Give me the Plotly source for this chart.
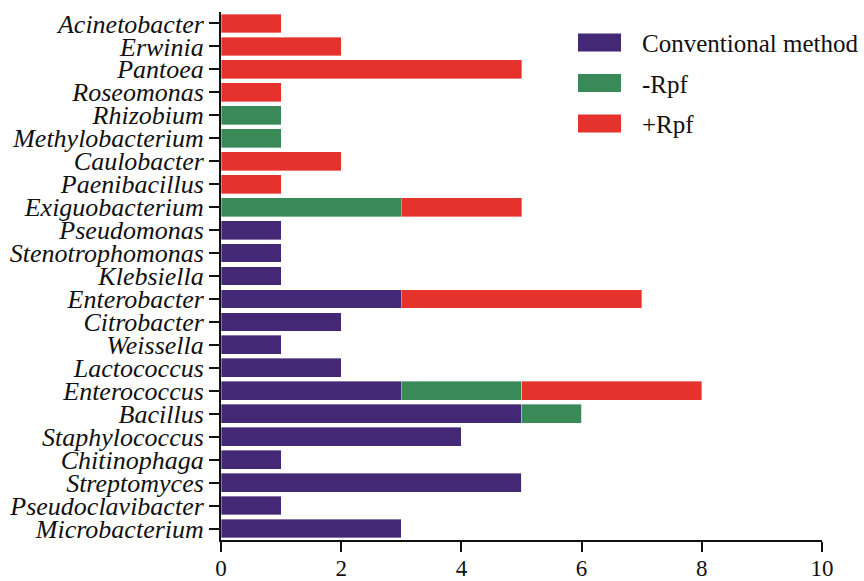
import plotly.graph_objects as go

genera = ["Microbacterium", "Pseudoclavibacter", "Streptomyces", "Chitinophaga",
          "Staphylococcus", "Bacillus", "Enterococcus", "Lactococcus", "Weissella",
          "Citrobacter", "Enterobacter", "Klebsiella", "Stenotrophomonas",
          "Pseudomonas", "Exiguobacterium", "Paenibacillus", "Caulobacter",
          "Methylobacterium", "Rhizobium", "Roseomonas", "Pantoea", "Erwinia",
          "Acinetobacter"]
conventional = [3, 1, 5, 1, 4, 5, 3, 2, 1, 2, 3, 1, 1, 1, 0, 0, 0, 0, 0, 0, 0, 0, 0]
minus_rpf    = [0, 0, 0, 0, 0, 1, 2, 0, 0, 0, 0, 0, 0, 0, 3, 0, 0, 1, 1, 0, 0, 0, 0]
plus_rpf     = [0, 0, 0, 0, 0, 0, 3, 0, 0, 0, 4, 0, 0, 0, 2, 1, 2, 0, 0, 1, 5, 2, 1]
series_names = ["Conventional method", "-Rpf", "+Rpf"]
colors = ["#432875", "#3a8a57", "#e6322d"]
x_ticks = [0, 2, 4, 6, 8, 10]

FONT = "Liberation Serif, Times New Roman, serif"

fig = go.Figure()
for name, vals, col in zip(series_names, [conventional, minus_rpf, plus_rpf], colors):
    fig.add_trace(go.Bar(
        y=genera, x=vals, name=name, orientation="h",
        marker=dict(color=col, line=dict(width=0.6, color="rgba(255,255,255,0.6)")),
        showlegend=False,
    ))

# custom legend (wide colour keys as in the reference)
L, R, T, B = 221, 42, 12, 41
W, H = 864 - L - R, 581 - T - B
def px(x):
    return (x - L) / W
def py(y):
    return (581 - B - y) / H

shapes = []
annotations = []
for i, (name, col) in enumerate(zip(series_names, colors)):
    cy = 42.5 + i * 40.5
    shapes.append(dict(type="rect", xref="paper", yref="paper",
                       x0=px(578), x1=px(621), y0=py(cy - 9), y1=py(cy + 9),
                       fillcolor=col, line=dict(width=0)))
    annotations.append(dict(xref="paper", yref="paper", x=px(641), y=py(cy + 1),
                            text=name, showarrow=False, xanchor="left", yanchor="middle",
                            borderpad=0,
                            font=dict(family=FONT, size=25, color="#111")))

fig.update_layout(
    barmode="stack",
    bargap=0.18,
    width=864, height=581,
    margin=dict(l=L, r=R, t=T, b=B),
    paper_bgcolor="white", plot_bgcolor="white",
    font=dict(family=FONT, size=24, color="#111"),
    shapes=shapes,
    annotations=annotations,
    xaxis=dict(range=[0, 10], tickvals=x_ticks, showgrid=False, zeroline=False,
               automargin=False,
               showline=True, linecolor="#111", linewidth=2,
               ticks="outside", ticklen=10, tickwidth=2, tickcolor="#111",
               tickfont=dict(family=FONT, size=23), ticklabelstandoff=-4),
    yaxis=dict(range=[-0.5, 22.5], tickmode="array", tickvals=genera, ticktext=genera,
               showgrid=False, zeroline=False, automargin=False,
               showline=True, linecolor="#111", linewidth=2,
               ticks="outside", ticklen=10, tickwidth=2, tickcolor="#111",
               tickfont=dict(family=FONT, size=26, style="italic")),
)

fig.write_html("out.html", config={"displayModeBar": False},
               post_script="document.body.style.margin='0';")
